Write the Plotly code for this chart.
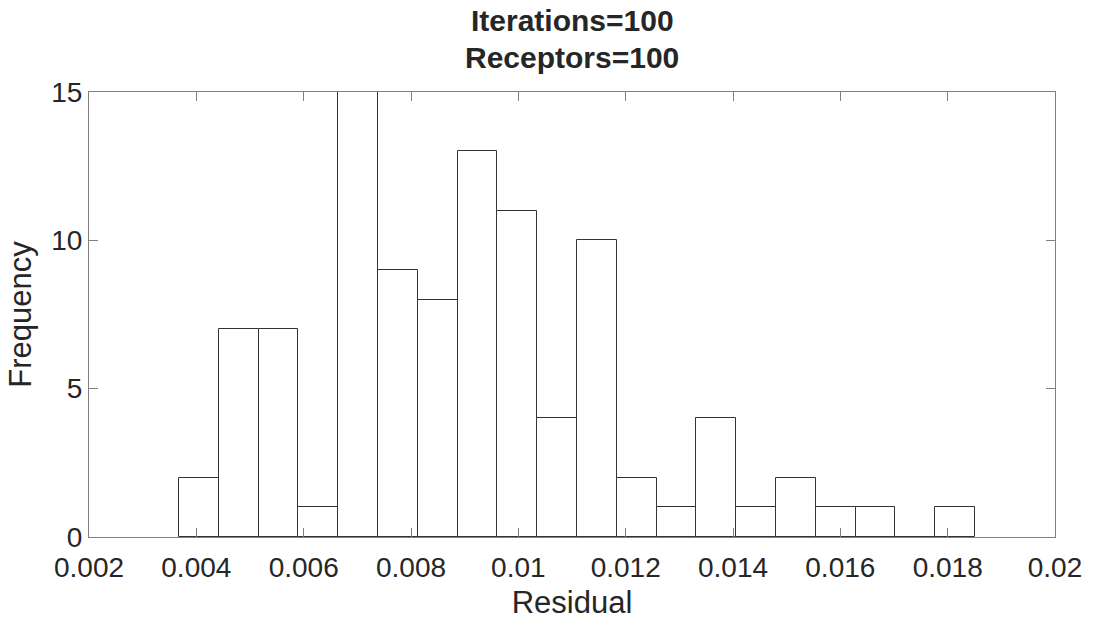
import plotly.graph_objects as go

# Histogram data
bin_first_edge = 0.003678
bin_width = 0.0007416
counts = [2, 7, 7, 1, 15, 9, 8, 13, 11, 4, 10, 2, 1, 4, 1, 2, 1, 1, 0, 1]

x_tick_vals = [0.002, 0.004, 0.006, 0.008, 0.01, 0.012, 0.014, 0.016, 0.018, 0.02]
x_tick_text = ["0.002", "0.004", "0.006", "0.008", "0.01", "0.012", "0.014", "0.016", "0.018", "0.02"]
y_tick_vals = [0, 5, 10, 15]

title_line1 = "Iterations=100"
title_line2 = "Receptors=100"
x_label = "Residual"
y_label = "Frequency"

centers = [bin_first_edge + (i + 0.5) * bin_width for i in range(len(counts))]

FONT = "Liberation Sans, Arial, Helvetica, sans-serif"
TXT = "#262626"
AX = "#808080"

fig = go.Figure()
fig.add_trace(go.Bar(
    x=centers, y=counts, width=[bin_width] * len(counts),
    marker=dict(color="white", line=dict(color="#333333", width=1)),
    hoverinfo="x+y",
))

fig.update_layout(
    width=1094, height=627,
    margin=dict(l=89, r=39, t=92, b=90),
    paper_bgcolor="white", plot_bgcolor="white",
    font=dict(family=FONT, size=28, color=TXT),
    showlegend=False,
    bargap=0,
    xaxis=dict(
        range=[0.002, 0.02], tickvals=x_tick_vals, ticktext=x_tick_text,
        ticks="inside", ticklen=9, tickwidth=1, tickcolor=AX,
        showline=True, linecolor=AX, linewidth=1, mirror="ticks",
        showgrid=False, zeroline=False, ticklabelstandoff=5,
        tickfont=dict(size=28, color=TXT),
        title=dict(text=x_label, font=dict(size=31, color=TXT), standoff=9),
    ),
    yaxis=dict(
        range=[0, 15], tickvals=y_tick_vals,
        ticks="inside", ticklen=9, tickwidth=1, tickcolor=AX,
        showline=True, linecolor=AX, linewidth=1, mirror="ticks",
        showgrid=False, zeroline=False,
        tickfont=dict(size=28, color=TXT),
        title=dict(text=y_label, font=dict(size=31, color=TXT), standoff=10),
    ),
    annotations=[
        dict(text="<b>%s</b>" % title_line1, xref="paper", yref="paper",
             x=0.5, y=1 + 71 / 445, xanchor="center", yanchor="middle",
             showarrow=False, font=dict(size=30, color=TXT, family=FONT)),
        dict(text="<b>%s</b>" % title_line2, xref="paper", yref="paper",
             x=0.5, y=1 + 35 / 445, xanchor="center", yanchor="middle",
             showarrow=False, font=dict(size=30, color=TXT, family=FONT)),
    ],
)

fig.write_html("out.html")
